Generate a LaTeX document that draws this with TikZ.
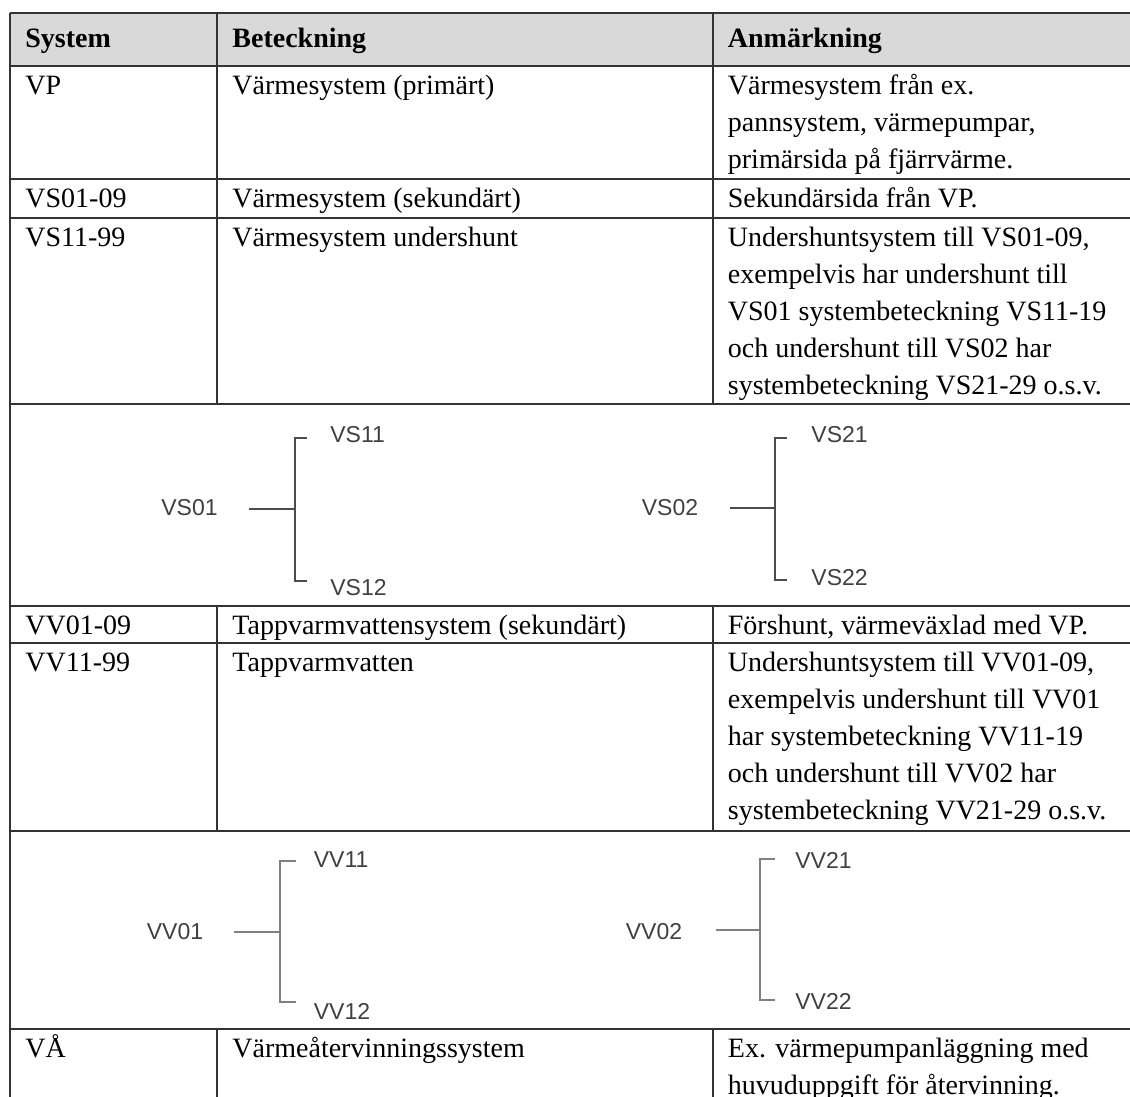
\documentclass[tikz,border=0pt]{standalone}
\usepackage{fontspec}
\setmainfont{Liberation Serif}
\newfontfamily\tagfont{Liberation Sans}
\usepackage{tikz}

\newcommand{\cellrows}[1]{\begin{tabular}[t]{@{}l@{}}#1\end{tabular}}

\begin{document}
\begin{tikzpicture}[
      x=0.5pt, y=-0.5pt,
      rule/.style={draw=black!80, line width=1pt},
      head/.style={anchor=base west, inner sep=0pt,
                   font=\fontsize{14}{18.5}\selectfont\bfseries},
      cell/.style={anchor=base west, inner sep=0pt,
                   font=\fontsize{14}{18.5}\selectfont},
      tag/.style={inner sep=0pt, text=black!75,
                  font=\tagfont\fontsize{11.5}{14}\selectfont},
      branch/.style={draw=black!70, line width=1pt},
      vbranch/.style={draw=black!50, line width=1.3pt}
    ]

    \path[use as bounding box, fill=white] (0,0) rectangle (1130,1097);

    % table frame
    \fill[black!15] (9.5,13) rectangle (1131,66);
    \foreach \y in {13, 66, 179, 218, 404, 605.5, 643, 830.5, 1029}
      \draw[rule] (9.5,\y) -- (1131,\y);
    \draw[rule] (9.5,13) -- (9.5,1100);
    \foreach \x in {216.5, 712.5} {
      \draw[rule] (\x,13) -- (\x,404);
      \draw[rule] (\x,605.5) -- (\x,830.5);
      \draw[rule] (\x,1029) -- (\x,1100);
    }

    \node[head] (hsys) at (25,48)    {System};
    \node[head] (hbet) at (232,48)   {Beteckning};
    \node[head] (hanm) at (727.5,48) {Anmärkning};

    \node[cell] (vp)    at (25,95)    {VP};
    \node[cell] (vpb)   at (232,95)   {Värmesystem (primärt)};
    \node[cell] (vpa)   at (727.5,95) {\cellrows{Värmesystem från ex.\\pannsystem, värmepumpar,\\primärsida på fjärrvärme.}};

    \node[cell] (vs)    at (25,207)    {VS01-09};
    \node[cell] (vsb)   at (232,207)   {Värmesystem (sekundärt)};
    \node[cell] (vsa)   at (727.5,207) {Sekundärsida från VP.};

    \node[cell] (vsu)   at (25,246.5)    {VS11-99};
    \node[cell] (vsub)  at (232,246.5)   {Värmesystem undershunt};
    \node[cell] (vsua)  at (727.5,246.5) {\cellrows{Undershuntsystem till VS01-09,\\exempelvis har undershunt till\\VS01 systembeteckning VS11-19\\och undershunt till VS02 har\\systembeteckning VS21-29 o.s.v.}};

    \node[cell] (vv)    at (25,634)    {VV01-09};
    \node[cell] (vvb)   at (232,634)   {Tappvarmvattensystem (sekundärt)};
    \node[cell] (vva)   at (727.5,634) {Förshunt, värmeväxlad med VP.};

    \node[cell] (vvu)   at (25,671.5)    {VV11-99};
    \node[cell] (vvub)  at (232,671.5)   {Tappvarmvatten};
    \node[cell] (vvua)  at (727.5,671.5) {\cellrows{Undershuntsystem till VV01-09,\\exempelvis undershunt till VV01\\har systembeteckning VV11-19\\och undershunt till VV02 har\\systembeteckning VV21-29 o.s.v.}};

    \node[cell] (va)    at (25,1057.5)    {VÅ};
    \node[cell] (vab)   at (232,1057.5)   {Värmeåtervinningssystem};
    \node[cell] (vaa)   at (727.5,1057.5) {\cellrows{Ex. värmepumpanläggning med\\huvuduppgift för återvinning.}};

    % VS trees
    \node[tag] (vs01) at (189.5,508) {VS01};
    \node[tag, anchor=west] (vs11) at (330,435) {VS11};
    \node[tag, anchor=west] (vs12) at (330,588) {VS12};
    \coordinate (vs01s) at (249,509);
    \coordinate (vs01j) at (295,509);
    \coordinate (vs11t) at (307,438);
    \coordinate (vs12t) at (307,581);
    \draw[branch] (vs01s) -- (vs01j);
    \draw[branch] (vs11t) -| (vs01j) |- (vs12t);

    \node[tag] (vs02) at (670,508) {VS02};
    \node[tag, anchor=west] (vs21) at (811,435) {VS21};
    \node[tag, anchor=west] (vs22) at (811,578) {VS22};
    \coordinate (vs02s) at (729.5,508);
    \coordinate (vs02j) at (775,508);
    \coordinate (vs21t) at (787,438);
    \coordinate (vs22t) at (787,580);
    \draw[branch] (vs02s) -- (vs02j);
    \draw[branch] (vs21t) -| (vs02j) |- (vs22t);

    % VV trees
    \node[tag] (vv01) at (175,932) {VV01};
    \node[tag, anchor=west] (vv11) at (313.5,860) {VV11};
    \node[tag, anchor=west] (vv12) at (313.5,1011.5) {VV12};
    \coordinate (vv01s) at (234,932);
    \coordinate (vv01j) at (280,932);
    \coordinate (vv11t) at (295.5,861);
    \coordinate (vv12t) at (295.5,1002);
    \draw[vbranch] (vv01s) -- (vv01j);
    \draw[vbranch] (vv11t) -| (vv01j) |- (vv12t);

    \node[tag] (vv02) at (654,932) {VV02};
    \node[tag, anchor=west] (vv21) at (795,860) {VV21};
    \node[tag, anchor=west] (vv22) at (795,1001.5) {VV22};
    \coordinate (vv02s) at (715.5,930);
    \coordinate (vv02j) at (760,930);
    \coordinate (vv21t) at (775,859);
    \coordinate (vv22t) at (775,1000);
    \draw[vbranch] (vv02s) -- (vv02j);
    \draw[vbranch] (vv21t) -| (vv02j) |- (vv22t);
  \end{tikzpicture}
\end{document}
